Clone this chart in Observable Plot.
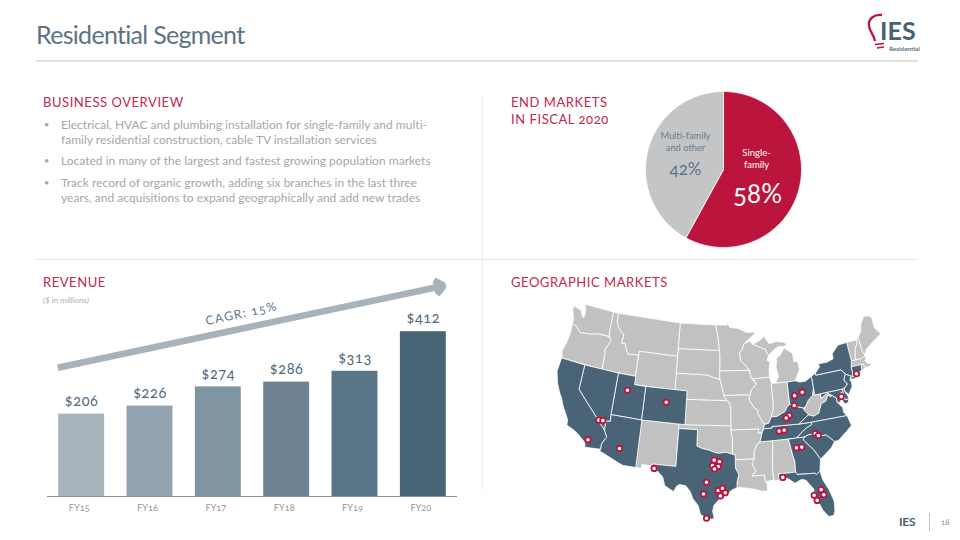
<!DOCTYPE html>
<html><head><meta charset="utf-8">
<script src="https://cdn.jsdelivr.net/npm/d3@7"></script>
<script src="https://cdn.jsdelivr.net/npm/@observablehq/plot@0.6"></script>
<style>
html,body{margin:0;padding:0;background:#fff;width:960px;height:540px;overflow:hidden;font-family:Lato,sans-serif;}
.abs{position:absolute;white-space:nowrap;}
.head{color:#c2274c;font-size:13px;letter-spacing:.55px;line-height:17px;}
.body{color:#a6a6a6;font-size:12px;letter-spacing:.02px;line-height:15px;}
.rule{position:absolute;background:#e4e4e4;}
svg text{font-variant-numeric:oldstyle-nums;font-feature-settings:"onum";}
body{font-feature-settings:"onum";}
.plot{position:absolute;}
.plot svg, svg.plot{overflow:visible;}
</style></head><body>
<div id="page"></div>
<script>
// ---- revenue
const fiscalYears = [2015, 2016, 2017, 2018, 2019, 2020];
const fiscalLabels = ["FY15", "FY16", "FY17", "FY18", "FY19", "FY20"];
const revenue = [206, 226, 274, 286, 313, 412];
const barColors = ["#a6b3bb", "#92a3af", "#7f95a2", "#6e8391", "#5c7689", "#4a6477"];
const cagrFrom = [2014.65, 322];
const cagrTo = [2020.3, 527];
// ---- end markets
const marketNames = ["Single-family", "Multi-family and other"];
const marketShares = [58, 42];
const marketColors = ["#bb143d", "#c4c5c7"];
// ---- states (lon, lat)
const WA=[[-124.7,48.4],[-123.1,48.15],[-122.7,47.5],[-122.3,47.4],[-122.3,48.3],[-122.75,49],[-117.03,49],[-117.04,46.4],[-116.92,46],[-118.98,46],[-119.3,45.93],[-120.5,45.7],[-121.2,45.65],[-122.3,45.55],[-122.8,45.9],[-123.4,46.2],[-124.05,46.27],[-124.1,46.9],[-124.7,47.9]];
const OR=[[-124.05,46.27],[-123.4,46.2],[-122.8,45.9],[-122.3,45.55],[-121.2,45.65],[-120.5,45.7],[-119.3,45.93],[-118.98,46],[-116.92,46],[-116.46,45.6],[-116.85,44.95],[-117.2,44.4],[-117.03,43.8],[-117.03,42],[-124.2,42],[-124.5,42.85],[-124.1,44],[-123.95,45.3]];
const CA=[[-124.2,42],[-120,42],[-120,39],[-114.63,35],[-114.13,34.27],[-114.72,33.4],[-114.72,32.72],[-117.12,32.53],[-117.3,33.1],[-118.4,33.75],[-119.2,34.15],[-120.6,34.55],[-120.65,35.15],[-121.9,36.6],[-122.5,37.5],[-123,38],[-123.75,39],[-124.35,40.3]];
const NV=[[-120,42],[-114.04,42],[-114.04,36.2],[-114.75,36.1],[-114.63,35],[-120,39]];
const ID=[[-117.03,49],[-116.05,49],[-116.05,48],[-115.7,47.45],[-114.7,46.7],[-114.35,46.65],[-114.5,45.55],[-113.9,45.65],[-113.45,44.95],[-113,44.45],[-111.5,44.55],[-111.05,44.48],[-111.05,42],[-117.03,42],[-117.03,43.8],[-117.2,44.4],[-116.85,44.95],[-116.46,45.6],[-116.92,46],[-117.04,46.4]];
const MT=[[-116.05,49],[-104.05,49],[-104.05,45],[-111.05,45],[-111.05,44.48],[-111.5,44.55],[-113,44.45],[-113.45,44.95],[-113.9,45.65],[-114.5,45.55],[-114.35,46.65],[-114.7,46.7],[-115.7,47.45],[-116.05,48]];
const WY=[[-111.05,45],[-104.05,45],[-104.05,41],[-111.05,41]];
const UT=[[-114.04,42],[-111.05,42],[-111.05,41],[-109.05,41],[-109.05,37],[-114.04,37]];
const CO=[[-109.05,41],[-102.05,41],[-102.05,37],[-109.05,37]];
const AZ=[[-114.04,37],[-109.05,37],[-109.05,31.33],[-111.07,31.33],[-114.8,32.5],[-114.72,32.72],[-114.72,33.4],[-114.13,34.27],[-114.63,35],[-114.75,36.1],[-114.04,36.2]];
const NM=[[-109.05,37],[-103,37],[-103.06,32],[-106.62,32],[-106.53,31.78],[-108.2,31.78],[-108.2,31.33],[-109.05,31.33]];
const TX=[[-106.62,32],[-103.06,32],[-103,36.5],[-100,36.5],[-100,34.56],[-99.2,34.3],[-98.1,34.13],[-97.2,33.85],[-96.5,33.78],[-95.5,33.9],[-94.48,33.64],[-94.04,33.55],[-94.04,33],[-94.04,32],[-93.55,31.2],[-93.85,30.3],[-93.85,29.7],[-94.7,29.35],[-95.3,28.9],[-96.4,28.35],[-97.2,27.6],[-97.4,26.9],[-97.15,25.96],[-97.6,25.9],[-98.3,26.1],[-99.1,26.4],[-99.5,27.5],[-100.3,28.3],[-100.7,29.1],[-101.4,29.77],[-102.3,29.88],[-102.7,29.7],[-103.15,28.98],[-104.5,29.6],[-104.9,30.6],[-106.53,31.78]];
const OK=[[-103,37],[-94.62,37],[-94.62,36.5],[-94.43,35.4],[-94.48,33.64],[-95.5,33.9],[-96.5,33.78],[-97.2,33.85],[-98.1,34.13],[-99.2,34.3],[-100,34.56],[-100,36.5],[-103,36.5]];
const KS=[[-102.05,40],[-95.3,40],[-94.9,39.8],[-94.61,39.1],[-94.62,37],[-102.05,37]];
const NE=[[-104.05,43],[-98.5,43],[-97.9,42.8],[-96.45,42.49],[-96.1,41.7],[-95.9,41],[-95.3,40],[-102.05,40],[-102.05,41],[-104.05,41]];
const SD=[[-104.05,45.94],[-96.56,45.94],[-96.45,45.3],[-96.45,43.5],[-96.45,42.49],[-97.9,42.8],[-98.5,43],[-104.05,43]];
const ND=[[-104.05,49],[-97.23,49],[-96.85,47.6],[-96.56,45.94],[-104.05,45.94]];
const MN=[[-97.23,49],[-95.15,49],[-95.15,49.38],[-94.6,48.7],[-93,48.55],[-91.5,48.05],[-89.6,48],[-92,46.7],[-92.3,46.1],[-92.85,45.6],[-92.75,44.75],[-91.2,43.5],[-96.45,43.5],[-96.45,45.3],[-96.56,45.94],[-96.85,47.6]];
const IA=[[-96.45,43.5],[-91.2,43.5],[-91.1,42.7],[-90.15,41.8],[-91.05,41.2],[-91.4,40.4],[-91.75,40.6],[-95.75,40.6],[-95.9,41],[-96.1,41.7],[-96.45,42.49]];
const MO=[[-95.75,40.6],[-91.75,40.6],[-91.4,40.4],[-91.5,40],[-90.7,39],[-90.2,38.8],[-90.2,38.4],[-89.5,37.3],[-89.15,37],[-89.4,36.5],[-89.7,36],[-90.37,36],[-90.15,36.5],[-94.62,36.5],[-94.62,39.1],[-94.9,39.8],[-95.3,40]];
const AR=[[-94.62,36.5],[-90.15,36.5],[-90.37,36],[-89.7,36],[-90.1,35],[-90.6,34.7],[-91.1,33.9],[-91.15,33],[-94.04,33],[-94.04,33.55],[-94.48,33.64],[-94.43,35.4]];
const LA=[[-94.04,33],[-91.15,33],[-91.5,32.4],[-91,31.6],[-91.6,31],[-89.75,31],[-89.6,30.2],[-89.4,29.9],[-89.4,29.1],[-90.2,29.1],[-91.3,29.4],[-92.3,29.55],[-93.85,29.7],[-93.85,30.3],[-93.55,31.2],[-94.04,32]];
const MS=[[-91.15,33],[-91.1,33.9],[-90.6,34.7],[-90.1,35],[-88.2,35],[-88.1,34.9],[-88.45,31.9],[-88.4,30.35],[-89.6,30.2],[-89.75,31],[-91.6,31],[-91,31.6],[-91.5,32.4]];
const AL=[[-88.2,35],[-85.6,35],[-85.18,32.87],[-85,32.3],[-85.05,31],[-87.6,31],[-87.5,30.3],[-88.05,30.25],[-88.4,30.35],[-88.45,31.9],[-88.1,34.9]];
const TN=[[-90.1,35],[-89.7,36],[-89.4,36.5],[-88.05,36.5],[-88.07,36.68],[-83.68,36.6],[-81.68,36.59],[-81.7,36.3],[-82.6,36],[-83.2,35.7],[-84.32,35],[-85.6,35],[-88.2,35]];
const GA=[[-85.6,35],[-84.32,35],[-83.1,35],[-83.35,34.7],[-81.9,33.3],[-81.1,32.1],[-81.45,30.7],[-82.05,30.36],[-82.2,30.55],[-84.85,30.7],[-85.05,31],[-85,32.3],[-85.18,32.87]];
const FL=[[-87.6,31],[-85.05,31],[-84.85,30.7],[-82.2,30.55],[-82.05,30.36],[-81.45,30.7],[-81.2,29.6],[-80.55,28.4],[-80.05,26.9],[-80.15,25.75],[-80.4,25.2],[-81.1,25.15],[-81.8,26],[-82.2,26.9],[-82.75,27.8],[-82.7,28.7],[-83.7,29.9],[-84.3,30.05],[-85.3,29.7],[-86.4,30.4],[-87.5,30.3]];
const SC=[[-83.35,34.7],[-83.1,35],[-82.3,35.2],[-81.05,35.1],[-80.8,34.82],[-79.67,34.8],[-78.55,33.86],[-79.2,33.2],[-80.4,32.5],[-81.1,32.1],[-81.9,33.3]];
const NC=[[-84.32,35],[-83.2,35.7],[-82.6,36],[-81.7,36.3],[-81.68,36.59],[-75.87,36.55],[-75.5,35.3],[-76.5,34.7],[-77.9,33.9],[-78.55,33.86],[-79.67,34.8],[-80.8,34.82],[-81.05,35.1],[-82.3,35.2],[-83.1,35]];
const VA=[[-83.68,36.6],[-81.68,36.59],[-75.87,36.55],[-76.3,37],[-76.3,37.6],[-77,38.3],[-77.05,38.85],[-77.72,39.32],[-77.83,39.13],[-78.35,39.4],[-78.85,38.75],[-79.65,38.55],[-80.3,37.5],[-81.2,37.25],[-81.95,37.5]];
const WV=[[-81.95,37.5],[-81.2,37.25],[-80.3,37.5],[-79.65,38.55],[-78.85,38.75],[-78.35,39.4],[-77.83,39.13],[-77.72,39.32],[-78.4,39.62],[-79.48,39.2],[-79.48,39.72],[-80.52,39.72],[-80.52,40.64],[-80.85,39.7],[-81.7,39.2],[-82.2,38.6],[-82.6,38.2]];
const KY=[[-89.15,37],[-88.5,37.1],[-88.05,37.8],[-87.1,37.8],[-86.3,38.1],[-85.7,38.3],[-85.4,38.7],[-84.8,39.1],[-84.25,38.85],[-83.6,38.65],[-82.6,38.4],[-82.6,38.2],[-81.95,37.5],[-83.68,36.6],[-88.07,36.68],[-88.05,36.5],[-89.4,36.5]];
const IL=[[-90.65,42.5],[-87.8,42.5],[-87.55,41.7],[-87.53,39.4],[-87.6,38.7],[-88.05,37.8],[-88.5,37.1],[-89.15,37],[-89.5,37.3],[-90.2,38.4],[-90.2,38.8],[-90.7,39],[-91.5,40],[-91.4,40.4],[-91.05,41.2],[-90.15,41.8]];
const IN=[[-87.53,41.7],[-87.2,41.75],[-84.8,41.75],[-84.8,39.1],[-85.4,38.7],[-85.7,38.3],[-86.3,38.1],[-87.1,37.8],[-88.05,37.8],[-87.6,38.7],[-87.53,39.4]];
const OH=[[-84.8,41.72],[-83.45,41.73],[-82.7,41.5],[-81.7,41.5],[-80.52,41.98],[-80.52,40.64],[-80.85,39.7],[-81.7,39.2],[-82.2,38.6],[-82.6,38.4],[-83.6,38.65],[-84.25,38.85],[-84.8,39.1]];
const MIL=[[-86.8,41.76],[-84.8,41.72],[-83.45,41.73],[-83.1,42.2],[-82.45,43],[-82.6,44],[-83.3,44],[-83.3,45],[-84.75,45.78],[-85.5,45],[-86.25,44.7],[-86.5,43.6],[-86.25,42.5]];
const MIU=[[-90.4,46.55],[-89,47],[-88.2,47.45],[-87.7,46.85],[-87.4,46.5],[-86,46.65],[-84.9,46.5],[-84.1,46.2],[-84.7,45.95],[-85.6,46.05],[-86.5,45.75],[-87.6,45.1],[-87.9,45.35],[-88.1,45.8],[-89.1,46.15]];
const WI=[[-92,46.7],[-90.9,46.95],[-90.4,46.55],[-89.1,46.15],[-88.1,45.8],[-87.9,45.35],[-87.6,45.1],[-88,44.55],[-87.5,44.3],[-87.8,43.3],[-87.8,42.5],[-90.65,42.5],[-91.1,42.7],[-91.2,43.5],[-92.75,44.75],[-92.85,45.6],[-92.3,46.1]];
const PA=[[-80.52,41.98],[-79.76,42.27],[-79.76,42],[-75.35,42],[-74.7,41.36],[-75.1,40.95],[-75.2,40.65],[-74.75,40.2],[-75.4,39.8],[-75.79,39.72],[-79.48,39.72],[-80.52,39.72],[-80.52,40.64]];
const NY=[[-79.76,42.27],[-78.9,42.9],[-79.05,43.27],[-77.5,43.25],[-76.3,43.5],[-76.3,44.1],[-75,44.95],[-73.35,45.01],[-73.3,43.6],[-73.25,42.75],[-73.5,42.05],[-73.5,41.3],[-73.65,41],[-73.75,40.85],[-72.3,41.1],[-72,41.05],[-73.5,40.6],[-74,40.6],[-73.9,41],[-74.7,41.36],[-75.35,42],[-79.76,42]];
const NJ=[[-74.7,41.36],[-73.9,41],[-74.25,40.5],[-74,40.45],[-74.1,39.75],[-74.9,38.95],[-75.55,39.5],[-75.4,39.8],[-74.75,40.2],[-75.2,40.65],[-75.1,40.95]];
const DE=[[-75.4,39.8],[-75.55,39.5],[-75.1,38.8],[-75.05,38.45],[-75.7,38.46],[-75.79,39.72]];
const MD=[[-79.48,39.72],[-75.79,39.72],[-75.7,38.46],[-75.05,38.45],[-75.25,38.03],[-75.9,37.95],[-76.2,38.6],[-76,39.4],[-76.5,39.2],[-76.4,38.3],[-77,38.3],[-77.05,38.85],[-77.72,39.32],[-78.4,39.62],[-79.48,39.2]];
const CT=[[-73.5,42.05],[-71.8,42.02],[-71.85,41.32],[-73.65,41],[-73.5,41.3]];
const RI=[[-71.8,42.02],[-71.38,42.02],[-71.15,41.5],[-71.85,41.32]];
const MA=[[-73.5,42.05],[-73.25,42.75],[-71.3,42.7],[-70.85,42.88],[-70.65,42.6],[-71,42.3],[-70.6,41.95],[-70,41.8],[-70,41.65],[-70.6,41.55],[-71.15,41.5],[-71.38,42.02],[-71.8,42.02]];
const VT=[[-73.35,45.01],[-71.5,45.01],[-71.6,44.5],[-72.05,44.1],[-72.45,43.1],[-72.45,42.73],[-73.25,42.75],[-73.3,43.6]];
const NH=[[-71.5,45.01],[-71.1,45.3],[-70.98,43.4],[-70.7,43.07],[-70.85,42.88],[-71.3,42.7],[-72.45,42.73],[-72.45,43.1],[-72.05,44.1],[-71.6,44.5]];
const ME=[[-71.1,45.3],[-70.4,45.8],[-70.25,46.2],[-70,46.7],[-69.2,47.45],[-68.3,47.35],[-67.8,47.07],[-67.8,45.7],[-67.45,45.3],[-67,44.85],[-68.5,44.3],[-69.5,43.9],[-70.2,43.6],[-70.7,43.07],[-70.98,43.4]];
const servedStates=[CA,NV,UT,CO,AZ,TX,TN,KY,OH,VA,NC,SC,GA,FL,PA,NY,NJ,MD,DE,CT];
const otherStates=[WA,OR,ID,MT,WY,NM,OK,KS,NE,SD,ND,MN,IA,MO,AR,LA,MS,AL,WV,IL,IN,MIL,MIU,WI,RI,MA,VT,NH,ME];
// ---- branch pins (lon, lat)
const branchLon=[-116.9,-115.85,-115.2,-111.9,-112.1,-105.4,-106.3,-97.27,-96.46,-97.52,-96.65,-97.2,-98.37,-98.76,-96.63,-96,-95.6,-96.3,-98.25,-82.5,-83.85,-84.1,-85.1,-85.63,-86.95,-86.15,-81.33,-80.9,-84.52,-83.7,-87.04,-81.65,-81.38,-82.76,-82.43,-76.2,-72.9];
const branchLat=[33.5,36.05,36.1,33.25,40.2,39.45,31.5,32.95,32.77,32.3,32.2,31.9,30.3,28.9,29.35,29.6,29.08,28.7,26,40.27,40,38.85,37.75,37.5,36.05,36.1,35.2,34.9,33.85,33.85,30.55,28.5,27.85,27.95,27.3,38.9,41.1];

const shadeInk = "#4a6477";
const greyInk = "#c1c1c1";
const font = "Lato, sans-serif";
const page = document.getElementById("page");
function place(el,left,top){el.style.position="absolute";el.style.left=left+"px";el.style.top=top+"px";page.appendChild(el);return el;}
function text(str,left,top,cls,css){const d=document.createElement("div");d.className="abs "+cls;d.textContent=str;d.style.left=left+"px";d.style.top=top+"px";if(css)d.style.cssText+=css;page.appendChild(d);return d;}
function rule(l,t,w,h,c){const d=document.createElement("div");d.className="rule";d.style.cssText+=`left:${l}px;top:${t}px;width:${w}px;height:${h}px;`+(c?`background:${c};`:"");page.appendChild(d);}

// header & frame
text("Residential Segment",36,17,"","font-size:25px;letter-spacing:-.7px;color:#5d7384;line-height:34px;font-weight:400;");
rule(36,60,882,2,"#e2e2e2");
rule(36,259,882,1,"#e8e8e8");
rule(482,95,1,395,"#ececec");
// text blocks
text("BUSINESS OVERVIEW",43,94,"head");
text("END MARKETS",511,94,"head");
text("IN FISCAL 2020",511,111,"head");
text("REVENUE",43,274,"head");
text("GEOGRAPHIC MARKETS",511,274,"head");
text("($ in millions)",43,294,"","font-size:8.5px;font-style:italic;color:#b0b0b0;line-height:12px;");
const bullets=[["Electrical, HVAC and plumbing installation for single-family and multi-",117,true],["family residential construction, cable TV installation services",132,false],["Located in many of the largest and fastest growing population markets",153,true],["Track record of organic growth, adding six branches in the last three",175,true],["years, and acquisitions to expand geographically and add new trades",190,false]];
for(const [s,t,b] of bullets){text(s,61,t,"body");if(b)text("•",44,t,"body","font-size:9px;");}

// revenue chart
const revenueRows = fiscalYears.map((year,i)=>({year,label:fiscalLabels[i],value:revenue[i],color:barColors[i]}));
const barHalf = 0.336;
const revenuePlot = Plot.plot({
  width:440,height:260,marginLeft:17,marginRight:13,marginTop:0,marginBottom:34,
  style:{fontFamily:font,background:"transparent",overflow:"visible"},
  x:{domain:[2014.5,2020.5],axis:null},
  y:{domain:[0,565],axis:null},
  marks:[
    Plot.rectY(revenueRows,{x1:d=>d.year-barHalf,x2:d=>d.year+barHalf,y1:0,y2:"value",fill:"color"}),
    Plot.ruleY([0],{stroke:"#8f8f8f",strokeWidth:1}),
    Plot.text(revenueRows,{x:"year",y:0,text:"label",dx:-2.5,dy:12,fill:"#969696",fontSize:9.2,textAnchor:"middle"}),
    Plot.arrow([{}],{x1:()=>cagrFrom[0],y1:()=>cagrFrom[1],x2:()=>cagrTo[0],y2:()=>cagrTo[1],stroke:"#a6b3bb",strokeWidth:6.5,headLength:2.6,headAngle:80,bend:0,strokeLinecap:"butt",strokeLinejoin:"miter"}),
    Plot.text(revenueRows,{x:"year",y:"value",text:d=>"$"+d.value,dy:-13,fill:"#4f677a",fontSize:14.5,textAnchor:"middle",className:"vals"}),
    Plot.text(["CAGR: 15%"],{x:()=>2017.34,y:()=>457,rotate:-12,fill:"#5f7688",fontSize:12.3,textAnchor:"middle",className:"cagr"})
  ]
});
place(revenuePlot,30,270);

// pie
const arcs = d3.pie().sort(null)(marketShares);
const pieRows = arcs.flatMap((a,k)=>{
  const steps=d3.range(a.startAngle,a.endAngle,Math.PI/180).concat([a.endAngle]);
  return [{x:0,y:0,k},...steps.map(t=>({x:Math.sin(t),y:Math.cos(t),k})),{x:0,y:0,k}];
});
const piePlot = Plot.plot({
  width:170,height:170,margin:0,
  style:{fontFamily:font,background:"transparent",overflow:"visible"},
  x:{domain:[-85/78,85/78],axis:null},
  y:{domain:[-85/78,85/78],axis:null},
  marks:[
    Plot.line(pieRows,{x:"x",y:"y",z:"k",fill:d=>marketColors[d.k],stroke:"#fff",strokeWidth:0.8,curve:"linear"}),
    Plot.text(["Single-\nfamily"],{frameAnchor:"middle",dx:33,dy:-11,fill:"#fff",fontSize:9.5,lineHeight:1.2}),
    Plot.text([marketShares[0]+"%"],{frameAnchor:"middle",dx:34,dy:25,fill:"#fff",fontSize:26}),
    Plot.text(["Multi-family\nand other"],{frameAnchor:"middle",dx:-38,dy:-28,fill:"#6a7f8f",fontSize:9.3,lineHeight:1.25}),
    Plot.text([marketShares[1]+"%"],{frameAnchor:"middle",dx:-38,dy:0,fill:"#5d7384",fontSize:17})
  ]
});
place(piePlot,638,84);

// map
const conic = d3.geoConicEqualArea().parallels([29.5,45.5]).rotate([96,0]).center([0,38]).scale(449).translate([182,122]);
const yStretch = 1.07;
const mapProjection = d3.geoTransform({point(lon,lat){const p=conic([lon,lat]);this.stream.point(p[0],122+(p[1]-122)*yStretch);}});
const poly = r=>({type:"Polygon",coordinates:[[...r,r[0]]]});
const branches = branchLon.map((lon,i)=>({lon,lat:branchLat[i]}));
const mapPlot = Plot.plot({
  width:350,height:230,margin:0,
  style:{background:"transparent",overflow:"visible"},
  projection:mapProjection,
  marks:[
    Plot.geo(otherStates.map(poly),{fill:greyInk,stroke:"#fff",strokeWidth:0.8}),
    Plot.geo(servedStates.map(poly),{fill:shadeInk,stroke:"#fff",strokeWidth:0.8}),
    Plot.dot(branches,{x:"lon",y:"lat",r:2.7,fill:"#fff",stroke:"#bb143d",strokeWidth:1.8})
  ]
});
place(mapPlot,540,295);

// logo & footer
text("IES",880,18,"","font-size:25px;font-weight:700;letter-spacing:.1px;color:#466074;line-height:24px;");
text("Residential",889,45,"","font-size:6.3px;font-weight:700;color:#5a7284;line-height:7px;");
const ns="http://www.w3.org/2000/svg";
const bulb=document.createElementNS(ns,"svg");bulb.setAttribute("width","40");bulb.setAttribute("height","50");
bulb.innerHTML='<path d="M17 4 C9 3 3 8 4 15 C4.800 21 9 24 10 30" fill="none" stroke="#bb143d" stroke-width="2.300"/><path d="M10 33.500 L19 32.500 M12 37 L19 36" stroke="#bb143d" stroke-width="1.600"/>';
place(bulb,865,11);
text("IES",899,514,"","font-size:12px;font-weight:700;color:#466074;line-height:16px;letter-spacing:-.2px;");
rule(929,513,1,18,"#b9c6cf");
text("18",941,516,"","font-size:8px;color:#8c8c8c;line-height:12px;");
</script>
<style>
.vals text{letter-spacing:.6px}
.cagr text{letter-spacing:1.2px}
</style>
</body></html>
